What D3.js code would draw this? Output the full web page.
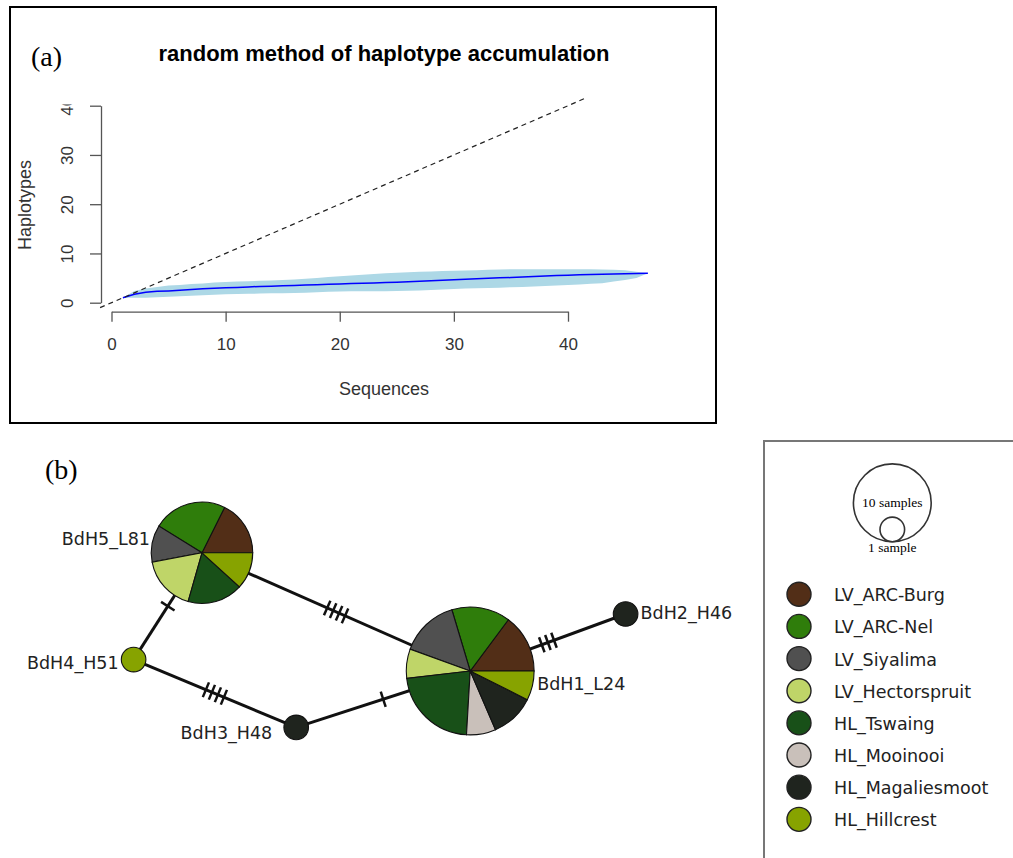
<!DOCTYPE html>
<html>
<head>
<meta charset="utf-8">
<script src="https://cdn.jsdelivr.net/npm/d3@7"></script>
<style>
  body { margin: 0; background: #fff; }
  svg { display: block; }
</style>
</head>
<body>
<div id="fig"></div>
<script>
// ---- (a) haplotype accumulation ----
var sequences = [1,2,3,4,5,6,7,8,9,10,11,12,13,14,15,16,17,18,19,20,21,22,23,24,25,26,27,28,29,30,31,32,33,34,35,36,37,38,39,40,41,42,43,44,45,46,47];
var meanHap  = [1,1.7,2.1,2.3,2.4,2.55,2.7,2.85,2.95,3.05,3.1,3.2,3.3,3.35,3.45,3.5,3.6,3.65,3.75,3.8,3.9,3.95,4.0,4.1,4.15,4.25,4.35,4.45,4.55,4.65,4.75,4.85,4.95,5.05,5.1,5.2,5.3,5.4,5.5,5.55,5.65,5.75,5.8,5.85,5.9,5.95,6.0];
var upperHap = [1,2.4,2.9,3.2,3.5,3.6,3.8,3.9,4.1,4.2,4.3,4.35,4.45,4.5,4.6,4.7,4.85,5.0,5.2,5.35,5.5,5.7,5.85,6.0,6.1,6.2,6.3,6.35,6.45,6.5,6.55,6.6,6.7,6.75,6.8,6.8,6.8,6.8,6.8,6.8,6.8,6.8,6.75,6.7,6.6,6.3,6.0];
var lowerHap = [1,1.0,1.0,1.1,1.2,1.3,1.4,1.5,1.6,1.7,1.75,1.8,1.85,1.9,1.9,1.95,2.0,2.1,2.2,2.25,2.3,2.3,2.3,2.35,2.4,2.45,2.5,2.6,2.7,2.8,2.9,2.95,3.0,3.05,3.15,3.2,3.3,3.4,3.5,3.6,3.7,3.85,3.95,4.3,4.6,5.0,6.0];
var refLine = [-1, 41.6];          // one new haplotype per sequence (dashed)
var xTicks = [0,10,20,30,40];
var yTicks = [0,10,20,30,40];

// ---- (b) haplotype network ----
var popNames  = ["LV_ARC-Burg","LV_ARC-Nel","LV_Siyalima","LV_Hectorspruit","HL_Tswaing","HL_Mooinooi","HL_Magaliesmoot","HL_Hillcrest"];
var popColors = ["#522e17","#2f7d0b","#505050","#bfd568","#185018","#c9c0ba","#1f241e","#87a300"];
var haploNames = ["BdH1_L24","BdH2_H46","BdH3_H48","BdH4_H51","BdH5_L81"];
var haploCounts = [
  [4,4,4,2,6,2,3,2],
  [0,0,0,0,0,0,1,0],
  [0,0,0,0,0,0,1,0],
  [0,0,0,0,0,0,0,1],
  [3,4,2,3,3,0,0,2]
];
var layoutX = [61.7, 87.6, 32.7, 5.6, 17.0];
var layoutY = [28.5, 19.0, 37.9, 26.6, 8.8];
var edgeFrom = ["BdH5_L81","BdH5_L81","BdH4_H51","BdH3_H48","BdH1_L24"];
var edgeTo   = ["BdH1_L24","BdH4_H51","BdH3_H48","BdH1_L24","BdH2_H46"];
var edgeMut  = [4,1,4,1,3];
var sizeSamples = [10, 1];

var W = 1013, H = 858;
var svg = d3.select("#fig").append("svg")
  .attr("width", W).attr("height", H);

svg.append("rect").attr("width", W).attr("height", H).attr("fill", "#fff");

// ================= panel (a) =================
var pa = svg.append("g");

pa.append("rect")
  .attr("x", 10).attr("y", 7)
  .attr("width", 706).attr("height", 416)
  .attr("fill", "none").attr("stroke", "#000").attr("stroke-width", 2);

pa.append("text")
  .attr("x", 31).attr("y", 66)
  .style("font-family", "Liberation Serif, Times New Roman, serif")
  .style("font-size", "28px")
  .text("(a)");

pa.append("text")
  .attr("x", 384).attr("y", 61)
  .attr("text-anchor", "middle")
  .style("font-family", "Liberation Sans, Arial, sans-serif")
  .style("font-weight", "bold")
  .style("font-size", "22px")
  .text("random method of haplotype accumulation");

var x = d3.scaleLinear().domain([0, 40]).range([111.5, 568]);
var y = d3.scaleLinear().domain([0, 40]).range([302.7, 105.7]);

var accum = sequences.map(function(s, i) {
  return {s: s, mean: meanHap[i], lo: lowerHap[i], hi: upperHap[i]};
});

pa.append("path")
  .datum(accum)
  .attr("fill", "#add8e6")
  .attr("d", d3.area()
    .x(function(d) { return x(d.s); })
    .y0(function(d) { return y(d.lo); })
    .y1(function(d) { return y(d.hi); }));

pa.append("path")
  .datum(accum)
  .attr("fill", "none")
  .attr("stroke", "#0000ff")
  .attr("stroke-width", 1.5)
  .attr("d", d3.line()
    .x(function(d) { return x(d.s); })
    .y(function(d) { return y(d.mean); }));

pa.append("line")
  .attr("x1", x(refLine[0])).attr("y1", y(refLine[0]))
  .attr("x2", x(refLine[1])).attr("y2", y(refLine[1]))
  .attr("stroke", "#222")
  .attr("stroke-width", 1.2)
  .attr("stroke-dasharray", "5,4");

// x axis
var xa = pa.append("g")
  .attr("transform", "translate(0,311.7)")
  .call(d3.axisBottom(x).tickValues(xTicks).tickSize(10).tickSizeOuter(0).tickPadding(16));
xa.select(".domain").attr("stroke", "#555").attr("stroke-width", 1.3);
xa.selectAll(".tick line").attr("stroke", "#555").attr("stroke-width", 1.3);
xa.selectAll("text")
  .style("font-family", "Liberation Sans, Arial, sans-serif")
  .style("font-size", "17px")
  .attr("fill", "#333");

// y axis
var ya = pa.append("g")
  .attr("transform", "translate(101,0)")
  .call(d3.axisLeft(y).tickValues(yTicks).tickSize(11).tickSizeOuter(0));
ya.select(".domain").attr("stroke", "#555").attr("stroke-width", 1.3);
ya.selectAll(".tick line").attr("stroke", "#555").attr("stroke-width", 1.3);
ya.selectAll("text")
  .attr("x", null).attr("dy", null)
  .attr("text-anchor", "middle")
  .attr("transform", "translate(-28,0) rotate(-90)")
  .style("font-family", "Liberation Sans, Arial, sans-serif")
  .style("font-size", "17px")
  .attr("fill", "#333");
// the top label is cut by the plot's edge in the original
ya.append("clipPath").attr("id", "ytop")
  .append("rect").attr("x", -20).attr("y", -20).attr("width", 21.8).attr("height", 26);
ya.selectAll(".tick").filter(function(d) { return d === 40; })
  .select("text").attr("clip-path", "url(#ytop)");

pa.append("text")
  .attr("x", 384).attr("y", 395)
  .attr("text-anchor", "middle")
  .style("font-family", "Liberation Sans, Arial, sans-serif")
  .style("font-size", "18px")
  .attr("fill", "#333")
  .text("Sequences");

pa.append("text")
  .attr("transform", "translate(31,205) rotate(-90)")
  .attr("text-anchor", "middle")
  .style("font-family", "Liberation Sans, Arial, sans-serif")
  .style("font-size", "18px")
  .attr("fill", "#333")
  .text("Haplotypes");

// ================= panel (b) =================
var pb = svg.append("g");

pb.append("text")
  .attr("x", 45).attr("y", 479)
  .style("font-family", "Liberation Serif, Times New Roman, serif")
  .style("font-size", "28px")
  .text("(b)");

var nx = d3.scaleLinear().domain([0, 100]).range([100, 700]);
var ny = d3.scaleLinear().domain([0, 50]).range([500, 800]);
var rad = d3.scaleSqrt().domain([0, 1]).range([0, 12.3]);

var nodes = haploNames.map(function(n, i) {
  return {name: n, x: nx(layoutX[i]), y: ny(layoutY[i]),
          counts: haploCounts[i], total: d3.sum(haploCounts[i])};
});
var byName = {};
nodes.forEach(function(n) { byName[n.name] = n; });

var edges = edgeFrom.map(function(f, i) {
  return {a: byName[f], b: byName[edgeTo[i]], m: edgeMut[i]};
});

var eg = pb.append("g");
edges.forEach(function(e) {
  eg.append("line")
    .attr("x1", e.a.x).attr("y1", e.a.y)
    .attr("x2", e.b.x).attr("y2", e.b.y)
    .attr("stroke", "#111").attr("stroke-width", 3);
  var dx = e.b.x - e.a.x, dy = e.b.y - e.a.y;
  var len = Math.sqrt(dx * dx + dy * dy);
  var ux = dx / len, uy = dy / len;
  var px = -uy, py = ux;
  var mx = (e.a.x + e.b.x) / 2, my = (e.a.y + e.b.y) / 2;
  for (var k = 0; k < e.m; k++) {
    var off = (k - (e.m - 1) / 2) * 6.5;
    var cx = mx + ux * off, cy = my + uy * off;
    eg.append("line")
      .attr("x1", cx - px * 8).attr("y1", cy - py * 8)
      .attr("x2", cx + px * 8).attr("y2", cy + py * 8)
      .attr("stroke", "#111").attr("stroke-width", 2.5);
  }
});

// slices start at 3 o'clock and run counter-clockwise, as in PopART
var pie = d3.pie().sort(null)
  .startAngle(Math.PI / 2).endAngle(Math.PI / 2 - 2 * Math.PI);

var ng = pb.selectAll(".node")
  .data(nodes)
  .enter().append("g")
  .attr("class", "node")
  .attr("transform", function(d) { return "translate(" + d.x + "," + d.y + ")"; });

ng.each(function(d) {
  var r = rad(d.total);
  var arc = d3.arc().innerRadius(0).outerRadius(r);
  var slices = pie(d.counts)
    .map(function(s, i) { s.pop = i; return s; })
    .filter(function(s) { return s.value > 0; });
  d3.select(this).selectAll("path")
    .data(slices)
    .enter().append("path")
    .attr("d", arc)
    .attr("fill", function(s) { return popColors[s.pop]; })
    .attr("stroke", "#111")
    .attr("stroke-width", 1.1);
});

var labelFont = "DejaVu Sans, Verdana, Tahoma, sans-serif";
var labelPos = {
  "BdH1_L24": {dx: 67, dy: 19, a: "start"},
  "BdH2_H46": {dx: 15, dy: 5, a: "start"},
  "BdH3_H48": {dx: -24, dy: 12, a: "end"},
  "BdH4_H51": {dx: -15, dy: 9, a: "end"},
  "BdH5_L81": {dx: -52, dy: -8, a: "end"}
};
ng.append("text")
  .attr("x", function(d) { return labelPos[d.name].dx; })
  .attr("y", function(d) { return labelPos[d.name].dy; })
  .attr("text-anchor", function(d) { return labelPos[d.name].a; })
  .style("font-family", labelFont)
  .style("font-size", "17.5px")
  .attr("fill", "#222")
  .text(function(d) { return d.name; });

// legend box
var lg = pb.append("g");
lg.append("rect")
  .attr("x", 764).attr("y", 441)
  .attr("width", 300).attr("height", 500)
  .attr("fill", "#fff").attr("stroke", "#777").attr("stroke-width", 2);

var sizeBase = 541.7, sizeX = 892.3;
sizeSamples.forEach(function(n) {
  lg.append("circle")
    .attr("cx", sizeX).attr("cy", sizeBase - rad(n))
    .attr("r", rad(n))
    .attr("fill", "none").attr("stroke", "#333").attr("stroke-width", 1.6);
});
lg.append("text")
  .attr("x", sizeX).attr("y", sizeBase - rad(10) + 4)
  .attr("text-anchor", "middle")
  .style("font-family", "Liberation Serif, Times New Roman, serif")
  .style("font-size", "13.5px")
  .text(sizeSamples[0] + " samples");
lg.append("text")
  .attr("x", sizeX).attr("y", 551.7)
  .attr("text-anchor", "middle")
  .style("font-family", "Liberation Serif, Times New Roman, serif")
  .style("font-size", "13.5px")
  .text(sizeSamples[1] + " sample");

var ly = d3.scaleBand().domain(popNames).range([578.2, 835.4]);
var items = lg.selectAll(".item")
  .data(popNames)
  .enter().append("g")
  .attr("class", "item")
  .attr("transform", function(d) { return "translate(799," + (ly(d) + ly.bandwidth() / 2) + ")"; });
items.append("circle")
  .attr("r", 12)
  .attr("fill", function(d, i) { return popColors[i]; })
  .attr("stroke", "#222").attr("stroke-width", 1.4);
items.append("text")
  .attr("x", 35).attr("y", 7)
  .style("font-family", labelFont)
  .style("font-size", "17.5px")
  .attr("fill", "#222")
  .text(function(d) { return d; });
</script>
</body>
</html>
